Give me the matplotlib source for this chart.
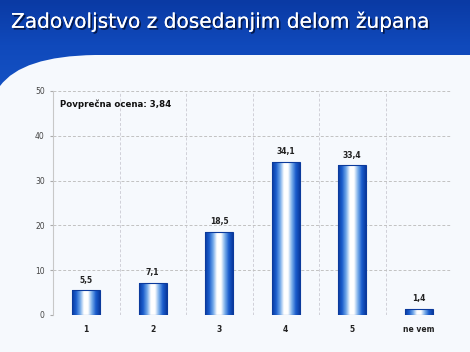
import numpy as np
import matplotlib
matplotlib.use("Agg")
import matplotlib.pyplot as plt
from matplotlib.path import Path
from matplotlib.patches import PathPatch
from matplotlib.colors import LinearSegmentedColormap
import matplotlib.patheffects as pe

# data
categories = ["1", "2", "3", "4", "5", "ne vem"]
values = [5.5, 7.1, 18.5, 34.1, 33.4, 1.4]
value_labels = ["5,5", "7,1", "18,5", "34,1", "33,4", "1,4"]
title = "Zadovoljstvo z dosedanjim delom župana"
note = "Povprečna ocena: 3,84"

W, H = 470, 352
fig = plt.figure(figsize=(W / 100, H / 100), dpi=100)
fig.patch.set_facecolor("#f6f9fd")

# background with blue header band (pixel coordinates)
bg = fig.add_axes([0, 0, 1, 1], zorder=-1)
bg.set_xlim(0, W)
bg.set_ylim(H, 0)
bg.axis("off")
verts = [(0, 0), (W, 0), (W, 55), (95, 55), (22, 56), (0, 86), (0, 0)]
codes = [Path.MOVETO, Path.LINETO, Path.LINETO, Path.LINETO,
         Path.CURVE3, Path.CURVE3, Path.CLOSEPOLY]
header = PathPatch(Path(verts, codes), facecolor="none", edgecolor="none")
bg.add_patch(header)
grad = np.linspace(0, 1, 100).reshape(-1, 1)
hcmap = LinearSegmentedColormap.from_list("hdr", ["#0a3aa4", "#1049bb", "#1452c4"])
im = bg.imshow(grad, cmap=hcmap, extent=[0, W, 90, 0], aspect="auto", zorder=0)
im.set_clip_path(header)
bg.text(11, 22, title, color="white", fontsize=14.5, va="center", ha="left",
        path_effects=[pe.withSimplePatchShadow(offset=(1.3, -1.3), shadow_rgbFace="#031440", alpha=0.9),
                      pe.Normal()])

# main chart
ax = fig.add_axes([53 / W, (H - 315) / H, (452 - 53) / W, (315 - 91) / H])
ax.set_facecolor("none")
x = np.arange(len(categories))
bars = ax.bar(x, values, width=0.42, facecolor="none", edgecolor="#0b3a9c", linewidth=0.8, zorder=3)

bcmap = LinearSegmentedColormap.from_list(
    "bar", ["#0a3a9e", "#1a5ccc", "#6fa6e8", "#ffffff", "#ffffff", "#7aaeea", "#1a5ccc", "#0a3a9e"])
hgrad = np.linspace(0, 1, 200).reshape(1, -1)
for b in bars:
    bx, by = b.get_x(), b.get_y()
    bw, bh = b.get_width(), b.get_height()
    gi = ax.imshow(hgrad, cmap=bcmap, extent=[bx, bx + bw, by, by + bh], aspect="auto", zorder=2)
    gi.set_clip_path(b)

for xi, v, lab in zip(x, values, value_labels):
    ax.text(xi, v + 1.3, lab, ha="center", va="bottom", fontsize=5.5, fontweight="bold", color="#222222")

ax.text(-0.4, 47.0, note, ha="left", va="center", fontsize=6.2, fontweight="bold", color="#111111")

ax.set_xlim(-0.5, len(categories) - 0.5)
ax.set_ylim(0, 50)
ax.set_yticks(np.arange(0, 51, 10))
ax.set_xticks(x)
ax.set_xticklabels(categories, fontsize=5.5, fontweight="bold", color="#222222")
ax.set_xticks(np.arange(-0.5, len(categories), 1), minor=True)
ax.tick_params(axis="y", labelsize=5.5, labelcolor="#444444", length=2, color="#aaaaaa", pad=4)
ax.tick_params(axis="x", which="both", length=0, pad=7)
ax.grid(axis="y", which="major", color="#c2c2c2", linestyle=(0, (3, 2)), linewidth=0.7, zorder=0)
ax.grid(axis="x", which="minor", color="#d0d0d8", linestyle=(0, (3, 2)), linewidth=0.7, zorder=0)
for s in ["top", "right", "bottom"]:
    ax.spines[s].set_visible(False)
ax.spines["left"].set_color("#c8c8c8")
ax.spines["left"].set_linewidth(0.8)

fig.savefig("out.png", dpi=100, facecolor=fig.get_facecolor())
